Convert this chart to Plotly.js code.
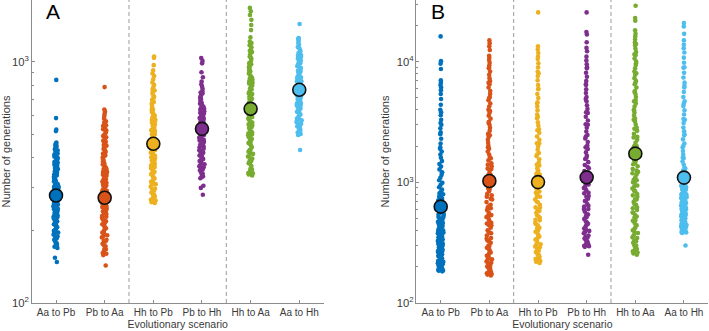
<!DOCTYPE html>
<html>
<head>
<meta charset="utf-8">
<script src="https://cdn.plot.ly/plotly-3.0.1.min.js"></script>
<style>html,body{margin:0;padding:0;background:#fff;}#chart{width:709px;height:331px;}</style>
</head>
<body>
<div id="chart"></div>
<script>
// ---------- data ----------
const categories = ["Aa to Pb", "Pb to Aa", "Hh to Pb", "Pb to Hh", "Hh to Aa", "Aa to Hh"];
const colors = ["#0072BD", "#D95319", "#EDB120", "#7E2F8E", "#77AC30", "#4DBEEE"];

// Panel A samples (number of generations)
const A_AaToPb = [841, 584, 523, 516, 462, 455, 451, 443, 437, 430, 424, 417, 412, 404, 399, 391, 388, 381, 374, 371, 366, 359, 356, 349, 347, 341, 336, 333, 328, 325, 319, 316, 311, 308, 305, 301, 298, 296, 292, 289, 287, 284, 282, 280, 278, 276, 273, 272, 269, 266, 264, 261, 258, 256, 252, 249, 247, 243, 240, 237, 234, 231, 229, 225, 222, 219, 216, 212, 209, 206, 203, 199, 196, 192, 189, 186, 183, 180, 177, 174, 171, 169, 154, 148,
  458, 446, 434, 421, 409, 395, 384, 377, 363, 352, 344, 338, 330, 322, 313, 303, 294, 286, 279, 271, 263, 254, 245, 236, 227, 218, 210, 201, 194, 185, 176, 172, 300, 290, 275, 260, 250, 232, 215, 198];
const A_PbToAa = [785, 634, 621, 608, 596, 581, 567, 553, 541, 530, 519, 507, 498, 486, 477, 466, 458, 449, 440, 431, 424, 416, 409, 401, 393, 386, 379, 372, 366, 359, 352, 347, 340, 334, 329, 323, 318, 312, 307, 302, 297, 292, 288, 283, 279, 275, 271, 267, 262, 258, 254, 250, 246, 242, 238, 234, 230, 226, 222, 218, 214, 210, 206, 202, 198, 195, 191, 187, 183, 180, 176, 172, 168, 165, 161, 158, 143,
  560, 545, 525, 512, 492, 470, 452, 435, 420, 404, 389, 375, 362, 349, 337, 326, 315, 304, 294, 285, 277, 269, 260, 252, 244, 236, 228, 220, 212, 204, 196, 189, 181, 174, 167, 160, 310, 290, 265, 240, 215];
const A_HhToPb = [1052, 1038, 968, 921, 893, 872, 846, 821, 803, 787, 770, 752, 738, 721, 709, 694, 681, 668, 655, 642, 631, 620, 609, 598, 588, 578, 569, 559, 550, 541, 533, 524, 516, 508, 501, 493, 486, 479, 472, 465, 458, 452, 445, 439, 432, 426, 420, 414, 408, 402, 396, 390, 384, 378, 372, 366, 360, 354, 348, 342, 337, 331, 325, 320, 314, 309, 303, 298, 292, 287, 281, 276, 271, 266, 262, 260,
  760, 715, 675, 636, 603, 573, 545, 520, 497, 475, 455, 436, 417, 399, 381, 363, 345, 328, 311, 295, 279, 268, 500, 460, 430, 390, 350, 318, 285];
const A_PbToHh = [1036, 1008, 985, 905, 862, 828, 806, 788, 771, 755, 741, 727, 713, 700, 688, 676, 665, 654, 643, 633, 623, 614, 605, 596, 588, 580, 572, 564, 557, 550, 543, 536, 529, 522, 515, 509, 502, 496, 490, 484, 478, 472, 466, 460, 454, 448, 442, 436, 430, 424, 418, 412, 406, 400, 394, 388, 382, 376, 369, 362, 355, 348, 341, 335, 329, 306, 300, 281,
  745, 705, 670, 638, 610, 584, 560, 539, 519, 499, 481, 463, 445, 427, 409, 391, 373, 358, 344, 332, 560, 530, 505, 475, 450, 420, 395, 365, 600, 650];
const A_HhToAa = [1672, 1618, 1563, 1492, 1421, 1353, 1262, 1214, 1196, 1171, 1148, 1122, 1098, 1074, 1051, 1029, 1008, 987, 967, 948, 929, 911, 893, 876, 859, 843, 827, 812, 797, 782, 768, 754, 741, 728, 715, 702, 690, 678, 666, 654, 643, 632, 621, 610, 600, 590, 580, 570, 560, 550, 541, 532, 523, 514, 505, 496, 487, 478, 469, 460, 451, 442, 433, 424, 415, 406, 397, 388, 379, 370, 361, 352, 346, 341, 338,
  1185, 1110, 1040, 977, 920, 867, 818, 775, 735, 697, 660, 626, 595, 565, 536, 509, 483, 457, 431, 405, 380, 357, 345, 700, 640, 590, 545, 500, 465, 420, 390, 850, 950];
const A_AaToHh = [1433, 1254, 1239, 1218, 1196, 1175, 1151, 1129, 1108, 1087, 1067, 1048, 1029, 1011, 993, 976, 959, 943, 927, 912, 897, 883, 869, 855, 842, 829, 816, 804, 792, 780, 768, 756, 745, 734, 723, 712, 702, 692, 682, 672, 662, 653, 644, 635, 626, 617, 608, 599, 590, 581, 572, 563, 554, 545, 536, 527, 518, 509, 502, 497, 431,
  1245, 1140, 1058, 985, 919, 862, 810, 762, 717, 677, 640, 604, 570, 540, 512, 900, 830, 750, 700, 660, 620, 580, 550, 525, 800, 1000];
const A_means = [279, 273, 457, 527, 638, 765];

// Panel B samples
const B_AaToPb = [16200, 10100, 9600, 8700, 7000, 6700, 6400, 6100, 5400, 4900, 4400, 4000, 3600, 3300, 3100, 3000, 2800, 2500, 2300, 2100, 1950, 1800, 1700, 1600, 1500, 1420, 1350, 1280, 1210, 1150, 1090, 1040, 990, 950, 910, 870, 840, 810, 780, 755, 730, 705, 680, 660, 640, 620, 600, 582, 565, 548, 532, 516, 501, 487, 473, 460, 447, 435, 423, 411, 400, 389, 379, 369, 359, 350, 341, 332, 324, 316, 308, 300, 293, 286, 279, 272, 265, 259, 253, 247, 241, 235, 229, 224, 219, 214, 209, 204, 199, 194, 190, 186, 183,
  795, 720, 650, 590, 540, 495, 455, 418, 384, 354, 327, 303, 281, 262, 245, 230, 216, 203, 192, 185, 750, 670, 610, 555, 510, 470, 430, 395, 362, 336, 312, 290, 270, 251, 237, 222, 208, 196, 188, 1200, 1900, 2600, 3800, 5800];
const B_PbToAa = [15000, 14200, 13400, 11200, 10800, 10300, 9800, 9300, 8800, 8300, 7800, 7300, 6900, 6500, 6100, 5700, 5400, 5100, 4800, 4500, 4250, 4000, 3780, 3570, 3370, 3180, 3000, 2830, 2670, 2520, 2380, 2250, 2130, 2010, 1900, 1800, 1700, 1610, 1520, 1440, 1360, 1290, 1220, 1160, 1100, 1040, 990, 940, 890, 845, 800, 760, 722, 686, 652, 620, 590, 562, 535, 510, 486, 463, 441, 420, 400, 381, 363, 346, 330, 315, 300, 287, 274, 262, 251, 240, 230, 221, 212, 204, 196, 189, 182, 176, 172, 169,
  12500, 9000, 6700, 5000, 3900, 3100, 2450, 1950, 1580, 1300, 1070, 880, 730, 610, 515, 440, 378, 325, 282, 246, 216, 192, 174, 1400, 1150, 950, 780, 640, 530, 455, 390, 340, 297, 260, 228, 201, 180];
const B_HhToPb = [25600, 13400, 12600, 11800, 10500, 9700, 9000, 8300, 7600, 7000, 6400, 5900, 5400, 5000, 4600, 4250, 3950, 3650, 3400, 3150, 2950, 2750, 2570, 2400, 2250, 2110, 1980, 1860, 1750, 1650, 1550, 1460, 1380, 1300, 1230, 1160, 1100, 1040, 985, 935, 885, 840, 798, 758, 720, 684, 650, 618, 588, 560, 533, 508, 484, 461, 440, 420, 401, 383, 366, 350, 335, 321, 307, 294, 282, 271, 260, 250, 240, 231, 223, 215,
  11000, 8000, 6000, 4500, 3500, 2700, 2100, 1700, 1400, 1170, 980, 820, 690, 580, 490, 415, 355, 305, 265, 232, 1250, 900, 760, 620, 520, 450, 390, 340, 290, 250, 220];
const B_PbToHh = [25600, 17600, 16800, 14500, 12200, 11000, 10200, 9500, 8800, 8100, 7500, 6900, 6400, 5900, 5500, 5100, 4700, 4350, 4050, 3750, 3500, 3250, 3030, 2830, 2640, 2470, 2310, 2160, 2020, 1890, 1770, 1660, 1560, 1470, 1390, 1310, 1240, 1170, 1110, 1050, 995, 945, 898, 853, 810, 770, 732, 696, 662, 630, 600, 572, 546, 521, 497, 474, 453, 433, 414, 396, 379, 363, 348, 334, 321, 309, 298, 292, 251,
  13000, 9000, 6500, 4900, 3800, 3000, 2400, 1950, 1600, 1340, 1130, 960, 820, 700, 600, 515, 445, 388, 342, 305, 1200, 880, 760, 640, 540, 465, 405, 355, 320, 296];
const B_HhToAa = [29100, 23000, 21800, 18200, 16200, 15300, 14400, 13600, 12800, 12000, 11300, 10600, 10000, 9400, 8800, 8300, 7800, 7300, 6900, 6500, 6100, 5700, 5400, 5100, 4800, 4500, 4250, 4000, 3780, 3570, 3370, 3180, 3000, 2830, 2670, 2520, 2380, 2250, 2130, 2010, 1900, 1800, 1700, 1610, 1520, 1440, 1360, 1290, 1220, 1160, 1100, 1040, 990, 940, 890, 845, 800, 760, 722, 686, 652, 620, 590, 562, 535, 510, 486, 463, 441, 420, 400, 381, 363, 346, 330, 315, 300, 287, 274, 262, 251,
  17000, 14000, 11500, 9700, 8000, 6700, 5600, 4700, 3950, 3300, 2780, 2350, 1980, 1670, 1410, 1190, 1000, 850, 720, 610, 520, 445, 380, 325, 280, 258, 2000, 1500, 1250, 1050, 920, 780, 660, 560, 480, 410, 350, 300, 268];
const B_AaToHh = [20900, 19600, 17000, 13800, 12900, 11900, 10800, 9800, 8900, 8100, 7400, 6700, 6100, 5600, 5100, 4700, 4300, 3950, 3650, 3350, 3100, 2850, 2650, 2450, 2270, 2100, 1950, 1820, 1700, 1590, 1490, 1400, 1320, 1250, 1180, 1120, 1070, 1020, 975, 935, 895, 858, 822, 788, 756, 726, 697, 670, 644, 620, 597, 575, 554, 535, 517, 500, 484, 469, 455, 442, 430, 418, 407, 397, 388, 380, 300,
  990, 950, 910, 870, 830, 795, 760, 730, 700, 672, 646, 622, 600, 578, 558, 540, 522, 505, 490, 476, 462, 448, 436, 424, 412, 402, 392, 384, 968, 880, 805, 740, 683, 632, 588, 548, 512, 480, 451, 425, 400, 1150, 1300, 1600, 2000, 2500, 3300, 4500, 6300, 9000, 15000];
const B_means = [629, 1026, 1004, 1100, 1729, 1094];

const A_samples = [A_AaToPb, A_PbToAa, A_HhToPb, A_PbToHh, A_HhToAa, A_AaToHh];
const B_samples = [B_AaToPb, B_PbToAa, B_HhToPb, B_PbToHh, B_HhToAa, B_AaToHh];

// ---------- traces ----------
const traces = [];
function addPanel(samples, means, xa, ya) {
  samples.forEach((vals, i) => {
    traces.push({
      type: 'box', y: vals, x0: categories[i], name: categories[i],
      xaxis: xa, yaxis: ya,
      boxpoints: 'all', jitter: 1, pointpos: 0, width: 0.12,
      fillcolor: 'rgba(0,0,0,0)', line: {width: 0, color: 'rgba(0,0,0,0)'},
      whiskerwidth: 0,
      marker: {color: colors[i], size: 4.6, line: {width: 0}},
      hoverinfo: 'y', showlegend: false
    });
  });
  traces.push({
    type: 'scatter', mode: 'markers', x: categories, y: means,
    xaxis: xa, yaxis: ya, showlegend: false,
    marker: {color: colors, size: 13, line: {color: '#111', width: 1.6}}
  });
}
addPanel(A_samples, A_means, 'x', 'y');
addPanel(B_samples, B_means, 'x2', 'y2');

const axisLine = '#8c8c8c';
const tickFont = {family: 'Liberation Sans, Arial, sans-serif', size: 10, color: '#3a3a3a'};
function xAxis(domain) {
  return {
    domain: domain, type: 'category', categoryorder: 'array', categoryarray: categories,
    range: [-0.5, 5.5], showline: true, linecolor: axisLine, linewidth: 1,
    ticks: 'inside', ticklen: 3, tickcolor: axisLine, tickfont: tickFont,
    showgrid: false, zeroline: false, fixedrange: true,
    title: {text: 'Evolutionary scenario', font: {family: 'Liberation Sans, Arial, sans-serif', size: 10.5, color: '#3a3a3a'}, standoff: 2}
  };
}
function yAxis(range, anchor) {
  return {
    type: 'log', range: range, domain: [0, 1], anchor: anchor,
    showline: true, linecolor: axisLine, linewidth: 1,
    ticks: 'inside', ticklen: 3, tickcolor: axisLine,
    dtick: 1, exponentformat: 'power', tickfont: {family: 'Liberation Sans, Arial, sans-serif', size: 9, color: '#3a3a3a'},
    minor: {ticks: 'inside', ticklen: 2, tickcolor: axisLine, showgrid: false},
    showgrid: false, zeroline: false, fixedrange: true,
    title: {text: 'Number of generations', font: {family: 'Liberation Sans, Arial, sans-serif', size: 11, color: '#3a3a3a'}, standoff: 4}
  };
}

const layout = {
  width: 709, height: 331,
  margin: {l: 0, r: 0, t: 0, b: 28},
  paper_bgcolor: '#ffffff', plot_bgcolor: '#ffffff',
  boxmode: 'overlay', showlegend: false,
  xaxis: Object.assign(xAxis([0.0447, 0.4564]), {anchor: 'y'}),
  yaxis: yAxis([2, 3.256], 'x'),
  xaxis2: Object.assign(xAxis([0.5873, 0.999]), {anchor: 'y2'}),
  yaxis2: yAxis([2, 4.511], 'x2'),
  shapes: [1.5, 3.5].flatMap(p => [
    {type: 'line', xref: 'x', yref: 'y domain', x0: p, x1: p, y0: 0, y1: 1, line: {color: '#9a9a9a', width: 1, dash: '4px,3px'}},
    {type: 'line', xref: 'x2', yref: 'y2 domain', x0: p, x1: p, y0: 0, y1: 1, line: {color: '#9a9a9a', width: 1, dash: '4px,3px'}}
  ]),
  annotations: [
    {text: 'A', xref: 'paper', yref: 'paper', x: 53 / 709, y: 1.005, xanchor: 'center', yanchor: 'top', showarrow: false, font: {family: 'Liberation Sans, Arial, sans-serif', size: 21, color: '#000'}},
    {text: 'B', xref: 'paper', yref: 'paper', x: 438 / 709, y: 1.005, xanchor: 'center', yanchor: 'top', showarrow: false, font: {family: 'Liberation Sans, Arial, sans-serif', size: 21, color: '#000'}}
  ]
};

Plotly.newPlot('chart', traces, layout, {displayModeBar: false, staticPlot: true});
</script>
</body>
</html>
